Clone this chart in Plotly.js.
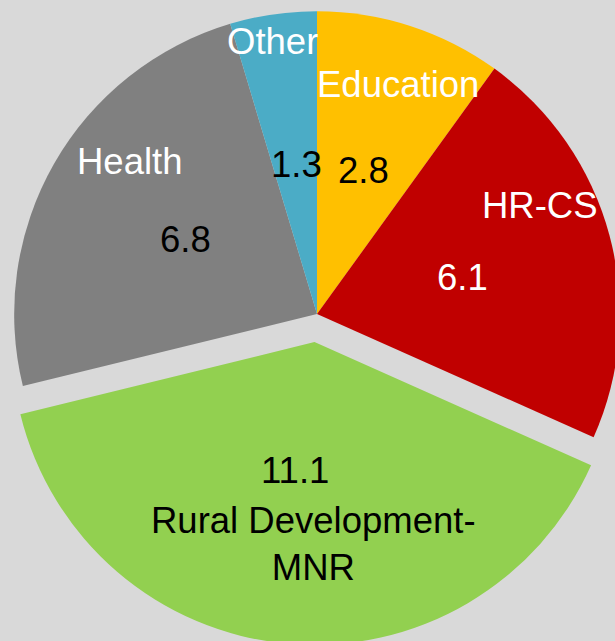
<!DOCTYPE html>
<html>
<head>
<meta charset="utf-8">
<script src="https://cdn.plot.ly/plotly-3.0.1.min.js"></script>
<style>
  html, body { margin: 0; padding: 0; width: 615px; height: 641px; overflow: hidden; background: #D9D9D9; }
  #chart { position: absolute; left: -14px; top: -17px; width: 662px; height: 662px; }
</style>
</head>
<body>
<div id="chart"></div>
<script>
// Data
const categories = ["Education", "HR-CS", "Rural Development-<br>MNR", "Health", "Other"];
const values = [2.8, 6.1, 11.1, 6.8, 1.3];
const colors = ["#FFC000", "#C00000", "#92D050", "#808080", "#4BACC6"];

// Label placement (page pixels) and text colours
const BOX = {left: -14, top: -17, w: 662, h: 662};
const labelPos = [[398, 84], [540, 205], [313, 544], [130, 161], [272, 41]];
const labelColor = ["#FFFFFF", "#FFFFFF", "#000000", "#FFFFFF", "#FFFFFF"];
const valuePos = [[363, 170], [462, 277], [295, 470], [185, 239], [296, 164]];
const valueColor = ["#000000", "#FFFFFF", "#000000", "#000000", "#000000"];

const FONT = "Liberation Sans, Arial, sans-serif";
const FS = 36.5;

function toPaper(p) {
  return { x: (p[0] - BOX.left) / BOX.w, y: 1 - (p[1] - BOX.top) / BOX.h };
}

const annotations = [];
categories.forEach((c, i) => {
  const lp = toPaper(labelPos[i]);
  annotations.push({
    text: c, x: lp.x, y: lp.y, xref: "paper", yref: "paper",
    xanchor: "center", yanchor: "middle", showarrow: false,
    font: {family: FONT, size: FS, color: labelColor[i]}
  });
  const vp = toPaper(valuePos[i]);
  annotations.push({
    text: values[i].toFixed(1), x: vp.x, y: vp.y, xref: "paper", yref: "paper",
    xanchor: "center", yanchor: "middle", showarrow: false,
    font: {family: FONT, size: FS, color: valueColor[i]}
  });
});

const trace = {
  type: "pie",
  labels: categories,
  values: values,
  sort: false,
  direction: "clockwise",
  rotation: 0,
  pull: [0, 0, 0.093, 0, 0],
  marker: {colors: colors, line: {width: 0}},
  textinfo: "none",
  hoverinfo: "label+value",
  showlegend: false
};

const layout = {
  width: BOX.w, height: BOX.h,
  margin: {l: 0, r: 0, t: 0, b: 0, pad: 0},
  paper_bgcolor: "#D9D9D9",
  plot_bgcolor: "#D9D9D9",
  showlegend: false,
  annotations: annotations
};

Plotly.newPlot("chart", [trace], layout, {displayModeBar: false, staticPlot: true});
</script>
</body>
</html>
